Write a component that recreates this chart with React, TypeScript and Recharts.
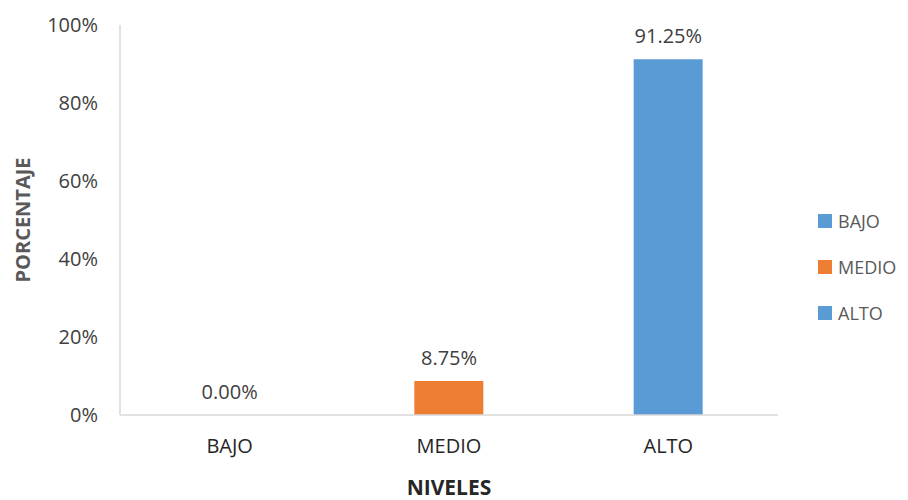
import React from "react";
import { ComposedChart, Bar, Line, XAxis, YAxis, Cell, LabelList } from "recharts";

const categories = ["BAJO", "MEDIO", "ALTO"];
const values = [0, 0.0875, 0.9125];
const colors = ["#5B9BD5", "#ED7D31", "#5B9BD5"];
const yTicks = [0, 0.2, 0.4, 0.6, 0.8, 1];

const data = categories.map((c, i) => ({ name: c, value: values[i] }));
const FONT = "'Open Sans', sans-serif";

const pct = (v: number) => `${Math.round(v * 100)}%`;
const pct2 = (v: any) => `${(Number(v) * 100).toFixed(2)}%`;

const ValueLabel = (props: any) => {
  const { x, y, value } = props;
  return (
    <text x={Number(x)} y={Number(y) - 16} textAnchor="middle" fill="#404040" fontSize={20} fontFamily={FONT}>
      {pct2(value)}
    </text>
  );
};

const LegendBox = () => (
  <div style={{ position: "absolute", left: 818, top: 198, fontFamily: FONT, fontSize: 18, color: "#595959" }}>
    {categories.map((c, i) => (
      <div key={c} style={{ display: "flex", alignItems: "center", height: 46 }}>
        <span style={{ display: "inline-block", width: 14, height: 14, background: colors[i], marginRight: 6 }} />
        <span>{c}</span>
      </div>
    ))}
  </div>
);

export default function App() {
  return (
    <div style={{ position: "absolute", left: 0, top: 0, width: 908, height: 500, background: "#fff" }}>
      <ComposedChart width={908} height={500} data={data} margin={{ top: 25, right: 130, bottom: 55, left: 0 }}>
        <XAxis
          dataKey="name"
          height={30}
          axisLine={{ stroke: "#d9d9d9", strokeWidth: 1.5 }}
          tickLine={false}
          tickSize={0}
          tickMargin={24}
          tick={{ fill: "#262626", fontSize: 20, fontFamily: FONT }}
          label={{ value: "NIVELES", position: "insideBottom", offset: -50, fill: "#262626", fontSize: 21, fontWeight: "bold", fontFamily: FONT }}
        />
        <YAxis
          width={120}
          domain={[0, 1]}
          ticks={yTicks}
          tickFormatter={pct}
          axisLine={{ stroke: "#d9d9d9", strokeWidth: 1.5 }}
          tickLine={false}
          tickSize={0}
          tickMargin={22}
          tick={{ fill: "#404040", fontSize: 20, fontFamily: FONT }}
          label={{ value: "PORCENTAJE", angle: -90, position: "insideLeft", offset: 23, fill: "#595959", fontSize: 20, fontWeight: "bold", fontFamily: FONT, style: { textAnchor: "middle" } }}
        />
        <Bar dataKey="value" barSize={69} isAnimationActive={false}>
          {data.map((d, i) => (
            <Cell key={d.name} fill={colors[i]} />
          ))}
        </Bar>
        <Line dataKey="value" stroke="none" dot={false} activeDot={false} legendType="none" isAnimationActive={false}>
          <LabelList dataKey="value" content={<ValueLabel />} />
        </Line>
      </ComposedChart>
      <LegendBox />
    </div>
  );
}
